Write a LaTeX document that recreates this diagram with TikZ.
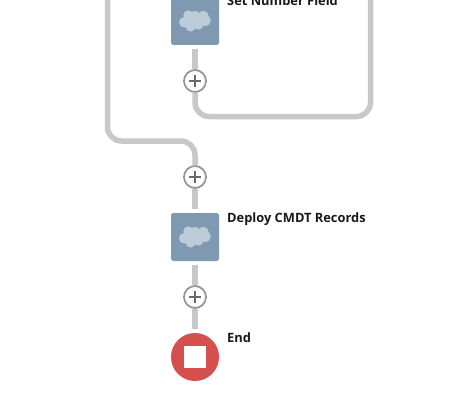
\documentclass[tikz,border=0pt]{standalone}
\usepackage{fontspec}
\setmainfont{Open Sans}
\usetikzlibrary{positioning}

\definecolor{flowgray}{HTML}{C9C8C6}
\definecolor{iconblue}{HTML}{7F99B2}
\definecolor{cloudblue}{HTML}{BECCDA}
\definecolor{endred}{HTML}{D64F4F}
\definecolor{plusring}{HTML}{979797}
\definecolor{plusmark}{HTML}{6B6B6B}

\begin{document}
\begin{tikzpicture}[
    x=1pt, y=-1pt,
    node distance=48pt,
    iconbox/.style={rectangle, fill=iconblue, minimum size=48pt, inner sep=0pt, rounded corners=2.5pt},
    endbox/.style={circle, fill=endred, minimum size=48pt, inner sep=0pt},
    stopbox/.style={rectangle, fill=white, minimum size=22.5pt, inner sep=0pt},
    addbox/.style={circle, draw=plusring, line width=1.8pt, fill=white, minimum size=22pt, inner sep=0pt},
    steplabel/.style={anchor=base west, inner sep=0pt, font=\fontsize{12.85}{15}\selectfont\bfseries, text=black!90},
    flow/.style={draw=flowgray, line width=5.5pt},
    plusbar/.style={draw=plusmark, line width=1.5pt},
    cloudmark/.pic={
        \fill[cloudblue] (-10.7,1.3) circle (5.3) (-6.7,-5.6) circle (5) (0,-5.3) circle (5)
            (8.3,-4.7) circle (5.5) (10.3,-0.3) circle (5.5) (-4.3,5.5) circle (5)
            (3.3,3.7) circle (5) (0,0) circle (6);
    },
    plusmark/.pic={
        \draw[plusbar] (-5.7,0) -- (5.7,0) (0,-5.7) -- (0,5.7);
    }
]
\useasboundingbox (0,0) rectangle (457,417);

% Steps
\node[iconbox] (setnumber) at (195,21) {};
\node[addbox] (addone) at (195,81) {};
\node[addbox] (addtwo) at (195,177) {};
\node[iconbox] (deploy) at (195,237) {};
\node[addbox] (addthree) at (195,297) {};
\node[endbox] (finish) at (195,357) {};
\node[stopbox] (stop) at (finish.center) {};

% Labels
\node[steplabel] (setnumberlabel) at (227,6) {Set Number Field};
\node[steplabel] (deploylabel) at (227,222) {Deploy CMDT Records};
\node[steplabel] (finishlabel) at (227,342) {End};

% Marks
\pic at (setnumber.center) {cloudmark};
\pic at (deploy.center) {cloudmark};
\pic at (addone.center) {plusmark};
\pic at (addtwo.center) {plusmark};
\pic at (addthree.center) {plusmark};

% Free ends at the top edge
\coordinate (loopend) at (370.5,-5);
\coordinate (outerend) at (107.5,-5);

% Connectors
\path[flow, shorten <=4pt] (setnumber.south) -- (addone.north);
\path[flow, rounded corners=14pt] (addone.south) -- (195,116.5) -- (370.5,116.5) -- (loopend);
\path[flow, rounded corners=14pt] (outerend) -- (107.5,141) -- (195,141) -- (addtwo.north);
\path[flow, shorten >=4pt] (addtwo.south) -- (deploy.north);
\path[flow, shorten <=4pt] (deploy.south) -- (addthree.north);
\path[flow, shorten >=4pt] (addthree.south) -- (finish.north);

\end{tikzpicture}
\end{document}
